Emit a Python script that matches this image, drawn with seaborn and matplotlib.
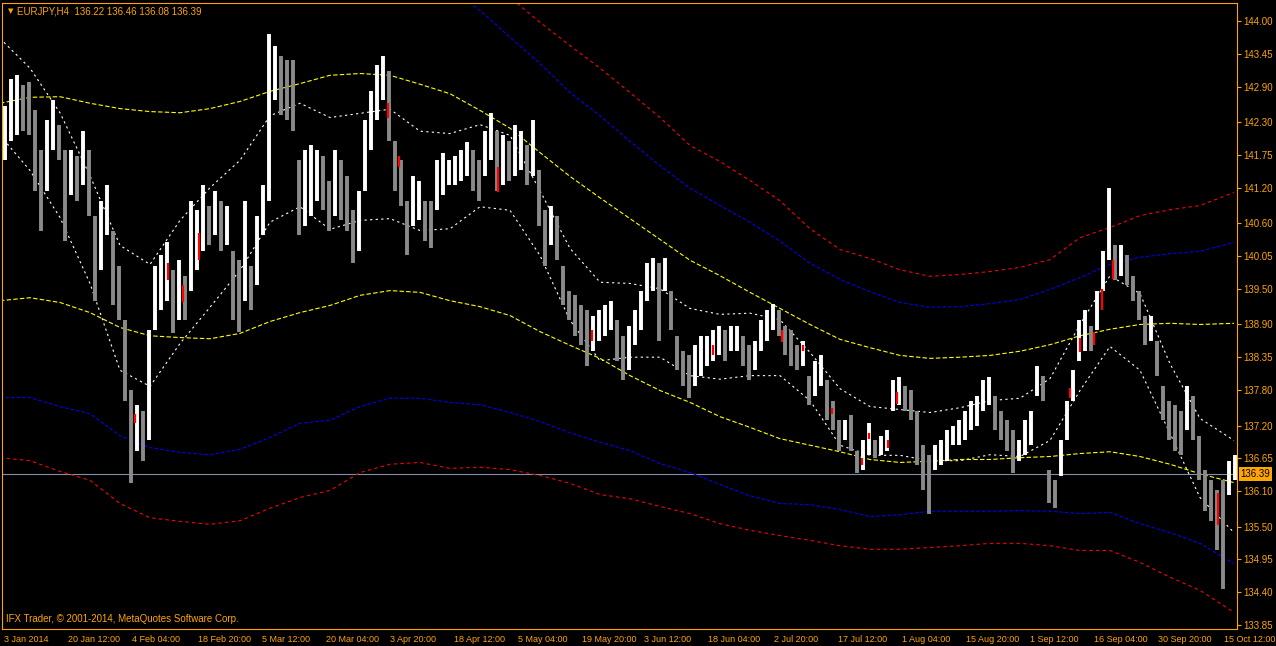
import matplotlib
matplotlib.use("Agg")
import matplotlib.pyplot as plt
import matplotlib.transforms as mtransforms
import numpy as np
import seaborn as sns

# ---- chart data ----
title_text = "EURJPY,H4  136.22 136.46 136.08 136.39"
copyright_text = "IFX Trader, \u00a9 2001-2014, MetaQuotes Software Corp."
last_price = 136.39

# price bars, one entry per group of 6 H4 bars
highs = [
    142.58, 143.03, 143.09, 142.92, 142.97, 142.50, 141.83, 142.33, 142.67, 142.25,
    141.83, 141.83, 141.74, 142.16, 141.83, 140.73, 140.98, 141.24, 140.48, 139.89,
    138.97, 137.79, 137.54, 137.45, 138.80, 139.89, 140.06, 140.28, 139.81, 139.98,
    139.72, 140.98, 140.82, 141.24, 140.90, 141.15, 140.98, 140.90, 140.14, 139.98,
    140.98, 139.89, 140.73, 141.24, 143.78, 143.59, 143.42, 143.34, 143.34, 141.66,
    141.83, 141.91, 141.83, 141.74, 141.32, 141.83, 141.66, 141.40, 140.82, 141.15,
    142.33, 142.83, 143.26, 143.42, 143.17, 141.99, 141.66, 140.98, 141.40, 141.32,
    140.98, 140.98, 141.66, 141.78, 141.66, 141.74, 141.83, 141.96, 141.83, 141.66,
    142.16, 142.45, 142.16, 142.08, 141.99, 142.25, 142.16, 141.91, 142.33, 141.49,
    140.82, 140.90, 140.73, 139.89, 139.47, 139.39, 139.22, 139.14, 139.05, 139.14,
    139.22, 139.30, 138.97, 138.71, 138.88, 139.14, 139.47, 139.94, 140.02, 139.94,
    140.01, 139.47, 138.71, 138.46, 138.38, 138.55, 138.71, 138.71, 138.80, 138.88,
    138.80, 138.88, 138.88, 138.71, 138.55, 138.63, 138.97, 139.14, 139.24, 139.14,
    138.88, 138.80, 138.55, 138.63, 138.04, 138.29, 138.38, 137.96, 137.62, 137.29,
    137.29, 137.37, 136.78, 136.95, 137.24, 136.95, 137.03, 137.12, 137.96, 138.01,
    137.87, 137.79, 137.45, 136.87, 136.70, 136.87, 136.95, 137.12, 137.20, 137.29,
    137.45, 137.62, 137.70, 137.96, 138.01, 137.70, 137.45, 137.29, 137.12, 136.95,
    137.29, 137.45, 138.21, 138.04, 136.45, 136.28, 136.95, 137.62, 138.13, 138.97,
    139.14, 138.88, 139.47, 140.14, 141.20, 140.23, 140.23, 140.06, 139.72, 139.47,
    139.05, 139.05, 138.63, 137.87, 137.62, 137.54, 137.45, 137.87, 137.70, 137.03,
    136.45, 136.28, 136.11, 136.28, 136.61, 136.70,
]
lows = [
    141.66, 141.99, 142.08, 142.16, 142.08, 141.15, 140.48, 141.15, 141.83, 141.66,
    140.31, 141.07, 140.98, 141.24, 140.73, 139.30, 139.81, 140.40, 139.22, 138.97,
    137.62, 136.23, 136.78, 136.61, 136.95, 138.80, 139.14, 139.30, 138.75, 138.97,
    138.97, 139.47, 139.81, 140.14, 140.23, 140.40, 140.14, 140.23, 138.97, 138.77,
    139.30, 139.14, 139.56, 140.40, 140.98, 142.67, 142.42, 142.33, 142.16, 140.40,
    140.56, 140.73, 140.98, 140.82, 140.48, 140.73, 140.65, 140.48, 139.93, 140.14,
    141.15, 141.83, 142.33, 142.67, 141.99, 141.15, 140.90, 140.06, 140.56, 140.65,
    140.31, 140.19, 140.82, 141.07, 141.24, 141.24, 141.32, 141.40, 141.15, 140.98,
    141.40, 141.66, 141.15, 141.24, 141.32, 141.40, 141.49, 141.24, 141.40, 140.56,
    139.89, 140.23, 139.98, 139.22, 138.97, 138.71, 138.55, 138.21, 138.46, 138.63,
    138.71, 138.80, 138.29, 137.96, 138.13, 138.55, 138.80, 139.30, 139.47, 138.63,
    139.47, 138.80, 138.13, 137.87, 137.67, 137.87, 138.04, 138.21, 138.29, 138.38,
    138.29, 138.46, 138.46, 138.21, 137.96, 138.13, 138.46, 138.63, 138.80, 138.71,
    138.38, 138.21, 138.13, 138.21, 137.54, 137.70, 137.87, 137.29, 137.12, 136.78,
    136.95, 136.78, 136.40, 136.45, 136.70, 136.66, 136.70, 136.78, 137.45, 137.54,
    137.45, 137.29, 136.53, 136.11, 135.72, 136.45, 136.53, 136.61, 136.87, 136.87,
    136.95, 137.12, 137.20, 137.45, 137.54, 137.12, 136.95, 136.78, 136.41, 136.61,
    136.70, 136.87, 137.70, 137.62, 135.89, 135.81, 136.36, 136.95, 137.62, 138.29,
    138.46, 138.46, 138.80, 139.47, 139.98, 139.64, 139.72, 139.56, 139.30, 138.97,
    138.55, 138.63, 138.04, 137.29, 136.95, 136.78, 136.70, 137.12, 136.95, 136.28,
    135.77, 135.60, 135.10, 134.46, 136.03, 136.28,
]

# single highlighted (red) bars
red_bars = [135, 168, 183, 199, 388, 399, 498, 592, 713, 782, 803,
            832, 862, 869, 888, 897, 1070, 1080, 1094, 1102, 1113, 1218]
red_highs = [137.40, 139.93, 139.56, 140.43, 142.62, 141.74, 141.54, 138.80, 138.55, 138.80, 138.55,
             137.50, 136.65, 137.07, 136.95, 137.76, 137.84, 138.68, 138.77, 139.50, 139.98, 136.06]
red_lows = [137.24, 139.64, 139.27, 139.98, 142.38, 141.54, 141.12, 138.63, 138.38, 138.60, 138.46,
            137.40, 136.53, 136.98, 136.83, 137.57, 137.66, 138.43, 138.55, 139.14, 139.67, 135.52]

# indicator bands, sampled along the bar axis
band_bars = [0, 30, 60, 90, 120, 150, 180, 210, 240, 270, 300, 330, 360, 390, 420,
             450, 480, 510, 540, 570, 600, 630, 660, 690, 720, 750, 780, 810, 840, 870,
             900, 930, 960, 990, 1020, 1050, 1080, 1110, 1140, 1170, 1200, 1234]
white_upper = [143.71, 143.21, 142.46, 141.40, 140.23, 139.91, 140.65, 141.20, 141.66, 142.41,
               142.62, 142.38, 142.45, 142.52, 142.15, 142.11, 142.26, 142.08, 141.15, 140.18,
               139.61, 139.59, 139.50, 139.17, 139.07, 139.09, 138.98, 138.43, 137.82, 137.52,
               137.47, 137.42, 137.50, 137.62, 137.66, 137.99, 138.90, 139.72, 139.42, 138.24,
               137.32, 136.95]
white_lower = [142.08, 141.49, 140.70, 139.59, 138.13, 137.86, 138.58, 139.19, 139.81, 140.62,
               140.88, 140.50, 140.65, 140.68, 140.48, 140.51, 140.88, 140.82, 140.06, 138.97,
               138.29, 138.35, 138.35, 138.04, 137.98, 138.04, 138.04, 137.62, 136.87, 136.70,
               136.70, 136.61, 136.61, 136.71, 136.68, 136.95, 137.79, 138.53, 138.13, 137.07,
               135.99, 135.40]
yellow_upper = [142.62, 142.72, 142.73, 142.62, 142.53, 142.48, 142.46, 142.53, 142.65, 142.82,
                142.95, 143.09, 143.12, 143.09, 142.94, 142.78, 142.50, 142.20, 141.79, 141.39,
                141.03, 140.68, 140.33, 139.98, 139.72, 139.44, 139.17, 138.90, 138.65, 138.51,
                138.38, 138.33, 138.35, 138.38, 138.45, 138.56, 138.71, 138.82, 138.90, 138.92,
                138.90, 138.92]
yellow_lower = [139.30, 139.35, 139.27, 139.10, 138.85, 138.71, 138.68, 138.66, 138.75, 138.95,
                139.10, 139.22, 139.39, 139.47, 139.44, 139.30, 139.20, 139.05, 138.78, 138.55,
                138.33, 138.04, 137.79, 137.59, 137.35, 137.17, 136.98, 136.87, 136.76, 136.63,
                136.58, 136.60, 136.63, 136.63, 136.66, 136.68, 136.73, 136.76, 136.68, 136.55,
                136.39, 136.24]
nan = np.nan
blue_upper = [nan, nan, nan, nan, nan, nan, nan, nan, nan, nan,
              nan, nan, nan, nan, nan, 144.55, 144.18, 143.73, 143.29, 142.80,
              142.41, 141.98, 141.57, 141.19, 140.90, 140.62, 140.30, 139.93, 139.66, 139.45,
              139.27, 139.19, 139.20, 139.25, 139.32, 139.49, 139.69, 139.91, 140.03, 140.09,
              140.13, 140.28]
blue_lower = [137.67, 137.67, 137.52, 137.40, 137.03, 136.83, 136.75, 136.71, 136.80, 137.00,
              137.24, 137.29, 137.52, 137.66, 137.66, 137.59, 137.55, 137.42, 137.27, 137.08,
              136.92, 136.78, 136.56, 136.41, 136.21, 136.02, 135.89, 135.87, 135.79, 135.67,
              135.70, 135.76, 135.76, 135.76, 135.77, 135.76, 135.72, 135.74, 135.55, 135.40,
              135.22, 134.88]
red_upper = [nan, nan, nan, nan, nan, nan, nan, nan, nan, nan,
             nan, nan, nan, nan, nan, nan, nan, 144.40, 143.98, 143.59,
             143.21, 142.80, 142.38, 141.91, 141.64, 141.32, 140.98, 140.51, 140.16, 140.01,
             139.82, 139.71, 139.74, 139.79, 139.86, 139.99, 140.36, 140.53, 140.73, 140.83,
             140.90, 141.12]
red_lower = [136.66, 136.61, 136.43, 136.28, 135.89, 135.65, 135.59, 135.54, 135.60, 135.81,
             135.99, 136.11, 136.41, 136.55, 136.58, 136.48, 136.50, 136.46, 136.36, 136.23,
             136.04, 135.97, 135.84, 135.72, 135.55, 135.44, 135.35, 135.27, 135.18, 135.12,
             135.12, 135.15, 135.18, 135.22, 135.22, 135.18, 135.10, 135.10, 134.90, 134.65,
             134.43, 134.06]

y_ticks = [144.00, 143.45, 142.90, 142.30, 141.75, 141.20, 140.60, 140.05, 139.50, 138.90,
           138.35, 137.80, 137.20, 136.65, 136.10, 135.50, 134.95, 134.40, 133.85]
x_tick_bars = [3, 67, 131, 196, 260, 324, 389, 453, 516, 581,
               643, 707, 772, 836, 900, 964, 1029, 1093, 1157, 1222]
x_tick_labels = ["3 Jan 2014", "20 Jan 12:00", "4 Feb 04:00", "18 Feb 20:00", "5 Mar 12:00",
                 "20 Mar 04:00", "3 Apr 20:00", "18 Apr 12:00", "5 May 04:00", "19 May 20:00",
                 "3 Jun 12:00", "18 Jun 04:00", "2 Jul 20:00", "17 Jul 12:00", "1 Aug 04:00",
                 "15 Aug 20:00", "1 Sep 12:00", "16 Sep 04:00", "30 Sep 20:00", "15 Oct 12:00"]

# ---- styling ----
orange = "#FFA500"
sns.set_style("dark", {"axes.facecolor": "black", "figure.facecolor": "black"})
plt.rcParams["font.family"] = ["Liberation Sans", "DejaVu Sans"]

W, H = 1276, 646
fig = plt.figure(figsize=(W / 100, H / 100), dpi=100)
ax = fig.add_axes([2.5 / W, (H - 628.5) / H, (1236.5 - 2.5) / W, (628.5 - 2.5) / H])
ax.set_facecolor("black")

# price bars: white when the group moves up, grey when it moves down
bar_x = np.arange(len(highs)) * 6 + 5
mids = (np.array(highs) + np.array(lows)) / 2
up = np.r_[True, np.diff(mids) >= 0]
bar_colors = np.where(up, "#ffffff", "#8a8a8a")
ax.vlines(bar_x, lows, highs, colors=bar_colors, linewidth=2.8, zorder=3)
ax.vlines(red_bars, red_lows, red_highs, colors="#ff0000", linewidth=1.6, zorder=4)

# indicator bands
bands = [
    (white_upper, "#ffffff", (0, (2, 3))),
    (white_lower, "#ffffff", (0, (2, 3))),
    (yellow_upper, "#ffff00", (0, (4, 2))),
    (yellow_lower, "#ffff00", (0, (4, 2))),
    (blue_upper, "#0000ff", (0, (3, 2))),
    (blue_lower, "#0000ff", (0, (3, 2))),
    (red_upper, "#ff0000", (0, (3, 3))),
    (red_lower, "#ff0000", (0, (3, 3))),
]
band_x = np.array(band_bars)
for values, col, ls in bands:
    v = np.array(values)
    ok = ~np.isnan(v)
    sns.lineplot(x=band_x[ok], y=v[ok], ax=ax, color=col, linewidth=0.8,
                 linestyle=ls, zorder=2)

# last price line
ax.axhline(last_price, color="#8090a8", linewidth=0.8, zorder=1)

ax.set_xlim(2.5, 1236.5)
ax.set_ylim(133.788, 144.314)
ax.grid(False)
for s in ax.spines.values():
    s.set_color(orange)
    s.set_linewidth(0.8)

ax.yaxis.tick_right()
ax.set_yticks(y_ticks)
ax.set_yticklabels([f"{v:.2f}" for v in y_ticks])
ax.tick_params(axis="y", colors=orange, direction="out", length=3, width=0.8,
               labelsize=7, pad=2)
ax.set_xticks(x_tick_bars)
ax.set_xticklabels(x_tick_labels)
ax.tick_params(axis="x", colors=orange, direction="out", length=4, width=0.8,
               labelsize=6.5, pad=0.5)
offset = mtransforms.ScaledTranslation(1.5 / 100, 0, fig.dpi_scale_trans)
for lab in ax.get_xticklabels():
    lab.set_horizontalalignment("left")
    lab.set_transform(lab.get_transform() + offset)
ax.set_xlabel("")
ax.set_ylabel("")

# current price tag on the right scale
ax.annotate(f"{last_price:.2f}", xy=(1, last_price), xycoords=("axes fraction", "data"),
            xytext=(3, 0), textcoords="offset points", ha="left", va="center",
            fontsize=7, color="black",
            bbox=dict(boxstyle="square,pad=0.2", fc=orange, ec="none"))

fig.text(8 / W, 1 - 11 / H, "\u25bc", color=orange, fontsize=5, va="center",
         family=["DejaVu Sans"])
fig.text(17 / W, 1 - 11 / H, title_text, color=orange, fontsize=7, va="center")
fig.text(6 / W, 1 - 619 / H, copyright_text, color=orange, fontsize=7, va="center")

fig.savefig("out.png", dpi=100, facecolor="black")
